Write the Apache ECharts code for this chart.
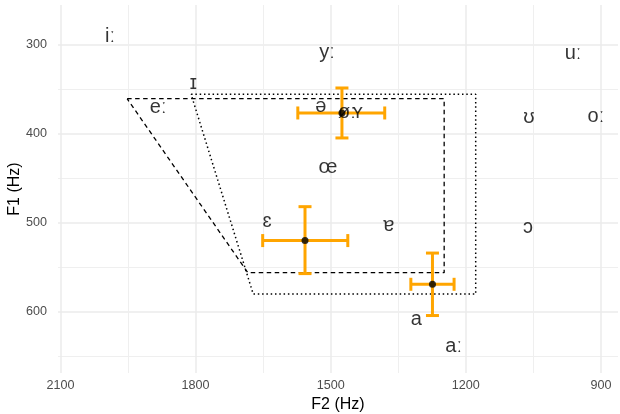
<!DOCTYPE html>
<html>
<head>
<meta charset="utf-8">
<script src="https://cdn.jsdelivr.net/npm/echarts@6/dist/echarts.min.js"></script>
<style>html,body{margin:0;padding:0;background:#fff}#c{width:620px;height:414px}</style>
</head>
<body>
<div id="c"></div>
<script>
// Vowel labels (F2, F1 in Hz)
const vowelLabels = ['iː', 'ɪ', 'eː', 'yː', 'uː', 'ə', 'øː', 'ʏ', 'œ', 'ʊ', 'oː', 'ɛ', 'ɐ', 'ɔ', 'a', 'aː'];
const vowelF2 = [1990, 1805, 1883, 1508, 962, 1522, 1464, 1440, 1506, 1060, 911, 1641, 1371, 1062, 1310, 1227];
const vowelF1 = [291, 344, 371, 309, 310, 370, 376, 376, 438, 382, 381, 499, 503, 505, 608, 639];

// Means with error bars
const barF2 = [1475, 1557, 1274];
const barF2Low = [1573, 1651, 1322];
const barF2High = [1380, 1462, 1226];
const barF1 = [377, 520, 569];
const barF1Low = [349, 482, 534];
const barF1High = [405, 557, 604];

// Vowel space polygons
const dashedF2 = [1952, 1248, 1248, 1684, 1952];
const dashedF1 = [361, 361, 556, 556, 361];
const dottedF2 = [1810, 1178, 1178, 1672, 1810];
const dottedF1 = [356, 356, 580, 580, 356];

// Axis ticks
const xTicks = [900, 1200, 1500, 1800, 2100];
const xMinor = [1050, 1350, 1650, 1950];
const yTicks = [300, 400, 500, 600];
const yMinor = [350, 450, 550, 650];

const FONT = '"Liberation Sans", Arial, "DejaVu Sans", sans-serif';
const X_MIN = 862, X_MAX = 2105.5, Y_MIN = 256, Y_MAX = 668.4;

const chart = echarts.init(document.getElementById('c'), null, {renderer: 'canvas'});

const baseX = {type: 'value', inverse: true, min: X_MIN, max: X_MAX, axisLine: {show: false}};
const baseY = {type: 'value', inverse: true, min: Y_MIN, max: Y_MAX, axisLine: {show: false}};

chart.setOption({
  animation: false,
  backgroundColor: '#fff',
  grid: {left: 58, right: 2, top: 5, bottom: 41, containLabel: false, outerBoundsMode: 'none'},
  xAxis: [
    Object.assign({}, baseX, {
      position: 'bottom',
      axisTick: {show: false, customValues: xTicks},
      axisLabel: {customValues: xTicks, formatter: v => String(v), color: '#4D4D4D', fontSize: 12.6, fontFamily: FONT, margin: 6},
      splitLine: {show: true, lineStyle: {color: '#EBEBEB', width: 1.5}},
      name: 'F2 (Hz)', nameLocation: 'middle', nameGap: 22,
      nameTextStyle: {color: '#000', fontSize: 16, fontFamily: FONT}
    }),
    Object.assign({}, baseX, {
      position: 'top',
      axisTick: {show: false, customValues: xMinor},
      axisLabel: {show: false},
      splitLine: {show: true, lineStyle: {color: '#EFEFEF', width: 1}}
    })
  ],
  yAxis: [
    Object.assign({}, baseY, {
      position: 'left',
      axisTick: {show: false, customValues: yTicks},
      axisLabel: {customValues: yTicks, formatter: v => String(v), color: '#4D4D4D', fontSize: 12.6, fontFamily: FONT, margin: 11},
      splitLine: {show: true, lineStyle: {color: '#EBEBEB', width: 1.5}},
      name: 'F1 (Hz)', nameLocation: 'middle', nameGap: 35, nameRotate: 90, nameMoveOverlap: false,
      nameTextStyle: {color: '#000', fontSize: 16, fontFamily: FONT}
    }),
    Object.assign({}, baseY, {
      position: 'right',
      axisTick: {show: false, customValues: yMinor},
      axisLabel: {show: false},
      splitLine: {show: true, lineStyle: {color: '#EFEFEF', width: 1}}
    })
  ],
  series: [
    {
      type: 'line', silent: true, showSymbol: false, symbol: 'none', z: 3,
      data: dashedF2.map((v, i) => [v, dashedF1[i]]),
      lineStyle: {color: '#000', width: 1.3, type: [4.5, 3.5]}
    },
    {
      type: 'line', silent: true, showSymbol: false, symbol: 'none', z: 3,
      data: dottedF2.map((v, i) => [v, dottedF1[i]]),
      lineStyle: {color: '#000', width: 1.5, type: [1.5, 2.8]}
    },
    {
      type: 'custom', silent: true, z: 4,
      data: barF2.map((v, i) => [v, barF1[i], barF2Low[i], barF2High[i], barF1Low[i], barF1High[i]]),
      encode: {x: 0, y: 1},
      renderItem: function (params, api) {
        const c = api.coord([api.value(0), api.value(1)]);
        const xl = api.coord([api.value(2), api.value(1)]);
        const xh = api.coord([api.value(3), api.value(1)]);
        const yl = api.coord([api.value(0), api.value(4)]);
        const yh = api.coord([api.value(0), api.value(5)]);
        const cap = 6.5;
        const style = {stroke: '#FFA500', lineWidth: 3, fill: null};
        const ln = (x1, y1, x2, y2) => ({type: 'line', shape: {x1, y1, x2, y2}, style});
        return {type: 'group', children: [
          ln(xl[0], c[1], xh[0], c[1]),
          ln(c[0], yl[1], c[0], yh[1]),
          ln(xl[0], c[1] - cap, xl[0], c[1] + cap),
          ln(xh[0], c[1] - cap, xh[0], c[1] + cap),
          ln(c[0] - cap, yl[1], c[0] + cap, yl[1]),
          ln(c[0] - cap, yh[1], c[0] + cap, yh[1])
        ]};
      }
    },
    {
      type: 'scatter', silent: true, z: 5,
      symbolSize: 0,
      data: vowelLabels.map((n, i) => ({name: n, value: [vowelF2[i], vowelF1[i]]})),
      label: {show: true, position: 'inside', formatter: p => p.name, color: '#000', fontSize: 20, fontFamily: FONT}
    },
    {
      type: 'scatter', silent: true, z: 6,
      symbol: 'circle', symbolSize: 7,
      itemStyle: {color: '#000'},
      data: barF2.map((v, i) => [v, barF1[i]])
    }
  ]
});
</script>
</body>
</html>
